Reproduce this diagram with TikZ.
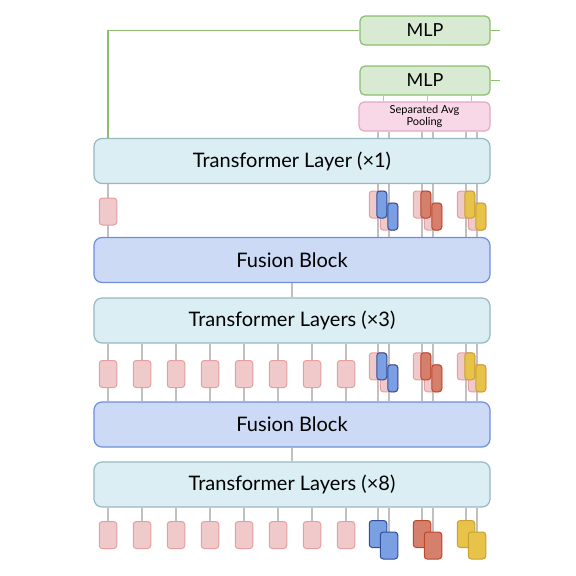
\documentclass[tikz,border=0pt]{standalone}
\usepackage{fontspec}
\setmainfont{Lato}
\usetikzlibrary{positioning, calc, backgrounds}
\definecolor{layercyan}{RGB}{218,238,244}
\definecolor{layerline}{RGB}{150,185,193}
\definecolor{fusionblue}{RGB}{204,218,245}
\definecolor{fusionline}{RGB}{109,143,221}
\definecolor{mlpgreen}{RGB}{217,234,211}
\definecolor{mlpline}{RGB}{140,190,110}
\definecolor{poolpink}{RGB}{248,215,230}
\definecolor{poolline}{RGB}{224,169,198}
\definecolor{tokpink}{RGB}{240,202,202}
\definecolor{tokpinkline}{RGB}{230,158,158}
\definecolor{tokblue}{RGB}{122,159,227}
\definecolor{tokblueline}{RGB}{47,79,154}
\definecolor{tokred}{RGB}{212,128,109}
\definecolor{tokredline}{RGB}{192,69,45}
\definecolor{tokyel}{RGB}{232,195,74}
\definecolor{tokyelline}{RGB}{201,160,50}
\definecolor{linkgray}{RGB}{192,192,192}

\begin{document}
\begin{tikzpicture}[
    x=1pt, y=-1pt,
    every node/.style={font=\fontsize{20}{24}\selectfont},
    layer/.style={rectangle, rounded corners=8pt, minimum width=396pt, minimum height=45pt,
                  text centered, draw=layerline, fill=layercyan, line width=1.2pt},
    fusion/.style={layer, draw=fusionline, fill=fusionblue},
    mlp/.style={rectangle, rounded corners=5pt, minimum width=130pt, minimum height=29pt,
                text centered, draw=mlpline, fill=mlpgreen, line width=1.2pt,
                font=\fontsize{18}{21}\selectfont},
    pool/.style={mlp, minimum width=131pt, draw=poolline, fill=poolpink, align=center,
                 inner sep=1pt, font=\fontsize{11}{12.5}\selectfont},
    tok/.style={rectangle, rounded corners=3pt, minimum width=17.5pt, minimum height=27pt,
                inner sep=0pt, draw=tokpinkline, fill=tokpink, line width=1pt},
    half/.style={tok, minimum width=10pt},
    link/.style={draw=linkgray, line width=1.2pt},
    green/.style={draw=mlpline, line width=1.2pt}
]
\useasboundingbox (0,0) rectangle (576,576);

% Heads
\node (mlp1) [mlp] at (425,30.5) {MLP};
\node (mlp2) [mlp] at (425,80.5) {MLP};
\node (pool) [pool] at (424.5,116.5) {Separated Avg\\Pooling};

% Layers
\node (t1) [layer] at (292,161) {Transformer Layer (×1)};
\node (f1) [fusion] at (292,260) {Fusion Block};
\node (t3) [layer] at (292,320.5) {Transformer Layers (×3)};
\node (f2) [fusion] at (292,424.5) {Fusion Block};
\node (t8) [layer] at (292,484.5) {Transformer Layers (×8)};

% Row after T1
\node (r1s0) [tok] at (108,211.5) {};
% Row after T3
\foreach \i in {0,...,7}
    \node (r2s\i) [tok] at ({108+34*\i},374) {};
% Row after T8
\foreach \i in {0,...,7}
    \node (r3s\i) [tok] at ({108+34*\i},535) {};

% Modality pairs
\foreach \x/\c/\n in {378/tokblue/b, 422/tokred/r, 466/tokyel/y} {
    % rows 1 and 2: pink with coloured half
    \node (r1\n1) [tok] at (\x,204.5) {};
    \node (r1\n2) [tok] at (\x+11,216.5) {};
    \node (r1\n1h) [half, anchor=east, fill=\c, draw=\c line] at (r1\n1.east) {};
    \node (r1\n2h) [half, anchor=east, fill=\c, draw=\c line] at (r1\n2.east) {};
    \node (r2\n1) [tok] at (\x,366.3) {};
    \node (r2\n2) [tok] at (\x+11,378.3) {};
    \node (r2\n1h) [half, anchor=east, fill=\c, draw=\c line] at (r2\n1.east) {};
    \node (r2\n2h) [half, anchor=east, fill=\c, draw=\c line] at (r2\n2.east) {};
    % row 3: full tokens
    \node (r3\n1) [tok, fill=\c, draw=\c line] at (\x,534) {};
    \node (r3\n2) [tok, fill=\c, draw=\c line] at (\x+11,545.5) {};
}

% Connectors
\begin{scope}[on background layer]
\draw [link] (t1.south -| r1s0) -- (f1.north -| r1s0);
\draw [link] (f1) -- (t3);
\draw [link] (f2) -- (t8);
\foreach \i in {0,...,7} {
    \draw [link] (t3.south -| r2s\i) -- (f2.north -| r2s\i);
    \draw [link] (t8.south -| r3s\i) -- (r3s\i.north);
}
\foreach \n in {b, r, y} {
    \draw [link] (t1.south -| r1\n1) -- (f1.north -| r1\n1);
    \draw [link] (t1.south -| r1\n2) -- (f1.north -| r1\n2);
    \draw [link] (t3.south -| r2\n1) -- (f2.north -| r2\n1);
    \draw [link] (t3.south -| r2\n2) -- (f2.north -| r2\n2);
    \draw [link] (t8.south -| r3\n1) -- (r3\n1.north);
    \draw [link] (t8.south -| r3\n2) -- (r3\n2.north);
    \draw [link] (pool.south -| r1\n1) -- (t1.north -| r1\n1);
    \draw [link] (pool.south -| r1\n2) -- (t1.north -| r1\n2);
    \coordinate (m\n) at ($(r1\n1)!0.5!(r1\n2)$);
    \draw [link] (mlp2.south -| m\n) -- (pool.north -| m\n);
}
\end{scope}

% Outputs
\coordinate (out1) at (500,30.5);
\coordinate (out2) at (500,80.5);
\draw [green] (mlp1.west) -| (t1.north -| r1s0);
\draw [green] (mlp1.east) -- (out1);
\draw [green] (mlp2.east) -- (out2);

\end{tikzpicture}
\end{document}
